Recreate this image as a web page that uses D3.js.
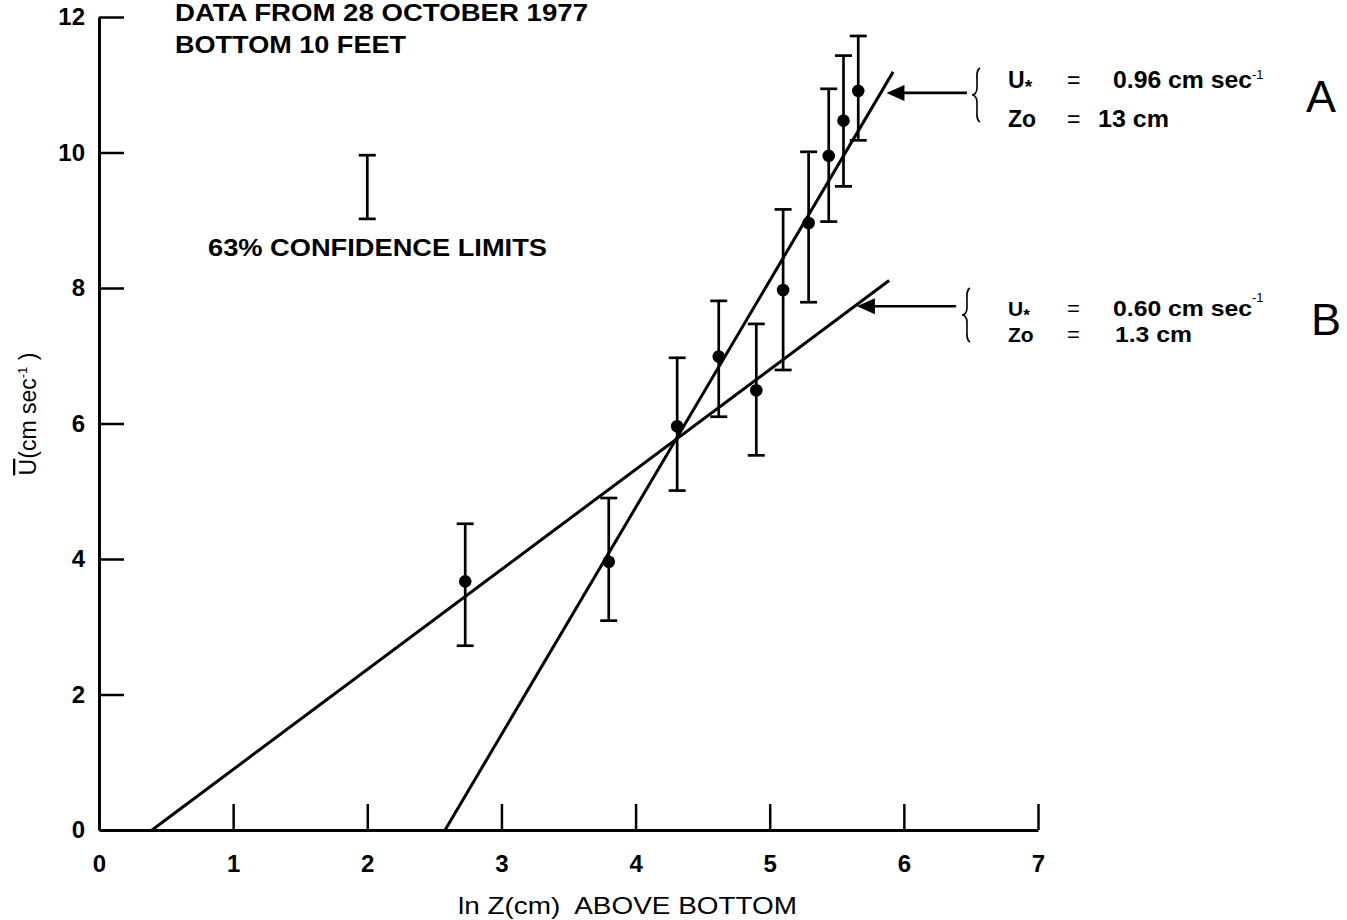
<!DOCTYPE html>
<html>
<head>
<meta charset="utf-8">
<script src="https://cdn.jsdelivr.net/npm/d3@7"></script>
<style>
  html, body { margin: 0; padding: 0; background: #fff; }
  svg { display: block; }
  text { font-family: "Liberation Sans", Arial, Helvetica, sans-serif; fill: #000; }
</style>
</head>
<body>
<svg id="chart" width="1347" height="920"></svg>
<script>
// ---- data ----
const xTickValues = [0, 1, 2, 3, 4, 5, 6, 7];
const yTickValues = [0, 2, 4, 6, 8, 10, 12];

// ln Z (cm) above bottom
const lnZ    = [2.73, 3.80, 4.31, 4.62, 4.90, 5.10, 5.29, 5.44, 5.55, 5.66];
// mean speed U (cm/s)
const uMean  = [3.67, 3.96, 5.96, 6.99, 6.49, 7.97, 8.96, 9.95, 10.47, 10.91];
// 63% confidence limits
const uUpper = [4.52, 4.90, 6.97, 7.81, 7.47, 9.16, 10.01, 10.94, 11.43, 11.72];
const uLower = [2.72, 3.09, 5.01, 6.10, 5.53, 6.79, 7.79, 8.98, 9.50, 10.18];

// fitted log-profile lines (endpoints)
const lineA_x = [2.58, 5.92];
const lineA_u = [0, 11.19];
const lineB_x = [0.395, 5.89];
const lineB_u = [0, 8.11];

// example confidence bar in the legend area
const legendBar = { x: 2.0, lo: 9.02, hi: 9.96 };

// arrows pointing to the lines: tip (x,u) and tail x
const arrowA = { tipX: 5.87, tailX: 6.47, u: 10.88 };
const arrowB = { tipX: 5.65, tailX: 6.39, u: 7.73 };

// ---- scales ----
const svg = d3.select("#chart");
const x = d3.scaleLinear().domain([0, 7]).range([99, 1038]);
const y = d3.scaleLinear().domain([0, 12]).range([830, 17]);

// ---- axes ----
const yAxis = d3.axisLeft(y).tickValues(yTickValues).tickFormat(d3.format("d"))
  .tickSizeInner(-25).tickSizeOuter(0).tickPadding(14);
const xAxis = d3.axisBottom(x).tickValues(xTickValues).tickFormat(d3.format("d"))
  .tickSizeInner(-26).tickSizeOuter(0).tickPadding(25);

const gy = svg.append("g").attr("transform", "translate(99,0)").call(yAxis);
const gx = svg.append("g").attr("transform", "translate(0,830)").call(xAxis);

[gx, gy].forEach(g => {
  g.select(".domain").attr("stroke", "#000").attr("stroke-width", 3);
  g.selectAll(".tick line").attr("stroke", "#000").attr("stroke-width", 2.5);
  g.selectAll(".tick text")
    .attr("font-size", 24).attr("font-weight", "bold")
    .attr("font-family", "'Liberation Sans', Arial, sans-serif").attr("fill", "#000");
});
gy.selectAll(".tick").filter(d => d === 0).select("line").remove();
gx.selectAll(".tick").filter(d => d === 0).select("line").remove();

// ---- fitted lines ----
const lineGen = d3.line().x(d => x(d[0])).y(d => y(d[1]));
svg.append("path")
  .attr("d", lineGen(d3.zip(lineA_x, lineA_u)))
  .attr("stroke", "#000").attr("stroke-width", 3).attr("fill", "none");
svg.append("path")
  .attr("d", lineGen(d3.zip(lineB_x, lineB_u)))
  .attr("stroke", "#000").attr("stroke-width", 3).attr("fill", "none");

// ---- error bars + points ----
const pts = lnZ.map((v, i) => ({ x: v, u: uMean[i], hi: uUpper[i], lo: uLower[i] }));
const capW = 8.5;
const eb = svg.append("g").attr("stroke", "#000").attr("stroke-width", 2.7);
eb.selectAll("line.v").data(pts).join("line")
  .attr("x1", d => x(d.x)).attr("x2", d => x(d.x))
  .attr("y1", d => y(d.hi)).attr("y2", d => y(d.lo));
eb.selectAll("line.t").data(pts).join("line")
  .attr("x1", d => x(d.x) - capW).attr("x2", d => x(d.x) + capW)
  .attr("y1", d => y(d.hi)).attr("y2", d => y(d.hi));
eb.selectAll("line.b").data(pts).join("line")
  .attr("x1", d => x(d.x) - capW).attr("x2", d => x(d.x) + capW)
  .attr("y1", d => y(d.lo)).attr("y2", d => y(d.lo));
svg.append("g").selectAll("circle").data(pts).join("circle")
  .attr("cx", d => x(d.x)).attr("cy", d => y(d.u)).attr("r", 6.3).attr("fill", "#000");

// legend bar
const lg = svg.append("g").attr("stroke", "#000").attr("stroke-width", 2.7);
lg.append("line").attr("x1", x(legendBar.x)).attr("x2", x(legendBar.x)).attr("y1", y(legendBar.hi)).attr("y2", y(legendBar.lo));
lg.append("line").attr("x1", x(legendBar.x) - capW).attr("x2", x(legendBar.x) + capW).attr("y1", y(legendBar.hi)).attr("y2", y(legendBar.hi));
lg.append("line").attr("x1", x(legendBar.x) - capW).attr("x2", x(legendBar.x) + capW).attr("y1", y(legendBar.lo)).attr("y2", y(legendBar.lo));

// ---- text annotations ----
function txt(str, px, py, opts = {}) {
  const t = svg.append("text").attr("x", px).attr("y", py)
    .attr("font-size", opts.size || 24)
    .attr("font-weight", opts.weight || "bold")
    .text(str);
  if (opts.len) t.attr("textLength", opts.len).attr("lengthAdjust", "spacingAndGlyphs");
  if (opts.anchor) t.attr("text-anchor", opts.anchor);
  return t;
}
txt("DATA FROM 28 OCTOBER 1977", 175, 21, { size: 24, len: 413 });
txt("BOTTOM 10 FEET", 175, 53, { size: 24, len: 231 });
txt("63% CONFIDENCE LIMITS", 208, 256, { size: 24, len: 339 });

// x-axis title (double space kept)
txt("ln Z(cm)\u00a0 ABOVE BOTTOM", 458, 914, { size: 24, len: 339, weight: 500 });

// y-axis title (rotated)
const yt = svg.append("text")
  .attr("transform", "translate(36,414) rotate(-90)")
  .attr("text-anchor", "middle")
  .attr("font-size", 23);
yt.append("tspan").style("text-decoration", "overline").text("U");
yt.append("tspan").text("(cm sec");
yt.append("tspan").attr("font-size", 13).attr("dy", -9).text("-1");
yt.append("tspan").attr("dy", 9).text(" )");

// ---- arrows ----
function arrow(a) {
  const tx = x(a.tipX), ty = y(a.u), ex = x(a.tailX);
  svg.append("line").attr("x1", tx + 12).attr("x2", ex).attr("y1", ty).attr("y2", ty)
    .attr("stroke", "#000").attr("stroke-width", 2.6);
  svg.append("path")
    .attr("d", `M${tx},${ty} L${tx + 18},${ty - 8} L${tx + 18},${ty + 8} Z`)
    .attr("fill", "#000");
}
arrow(arrowA);
arrow(arrowB);

// braces
function brace(bx, y0, y1) {
  const ym = (y0 + y1) / 2;
  const d = `M${bx + 5},${y0} C${bx + 1},${y0 + 2} ${bx + 2},${y0 + 8} ${bx + 2},${y0 + 14}
             L${bx + 2},${ym - 7} C${bx + 2},${ym - 2} ${bx - 1},${ym} ${bx - 3},${ym}
             C${bx - 1},${ym} ${bx + 2},${ym + 2} ${bx + 2},${ym + 7}
             L${bx + 2},${y1 - 14} C${bx + 2},${y1 - 8} ${bx + 1},${y1 - 2} ${bx + 5},${y1}`;
  svg.append("path").attr("d", d).attr("fill", "none").attr("stroke", "#000").attr("stroke-width", 1.6);
}
brace(975, 68, 122);
brace(965, 288, 342);

// annotation rows
function ustar(px, py, size) {
  const t = svg.append("text").attr("x", px).attr("y", py).attr("font-size", size).attr("font-weight", "bold");
  t.append("tspan").text("U");
  t.append("tspan").attr("dy", 5).attr("font-size", size - 4).text("*");
}
function sup(px, py) {
  svg.append("text").attr("x", px).attr("y", py).attr("font-size", 13).attr("font-weight", "normal").text("-1");
}
// A
ustar(1008, 88, 23);
txt("=", 1067, 88, { size: 23, weight: "normal" });
txt("0.96 cm sec", 1113, 88, { size: 23, len: 139 });
sup(1252, 79);
txt("Zo", 1008, 127, { size: 23 });
txt("=", 1067, 127, { size: 23, weight: "normal" });
txt("13 cm", 1098, 127, { size: 23, len: 71 });
txt("A", 1306, 112, { size: 45, weight: "normal" }).attr("font-family", "'DejaVu Sans', sans-serif").attr("font-weight", 200);
// B
ustar(1008, 316, 21);
txt("=", 1067, 316, { size: 22, weight: "normal" });
txt("0.60 cm sec", 1113, 316, { size: 22, len: 139 });
sup(1252, 302);
txt("Zo", 1008, 342, { size: 21 });
txt("=", 1067, 342, { size: 22, weight: "normal" });
txt("1.3 cm", 1115, 342, { size: 22, len: 77 });
txt("B", 1311, 335, { size: 45, weight: "normal" }).attr("font-family", "'DejaVu Sans', sans-serif").attr("font-weight", 200);
</script>
</body>
</html>
